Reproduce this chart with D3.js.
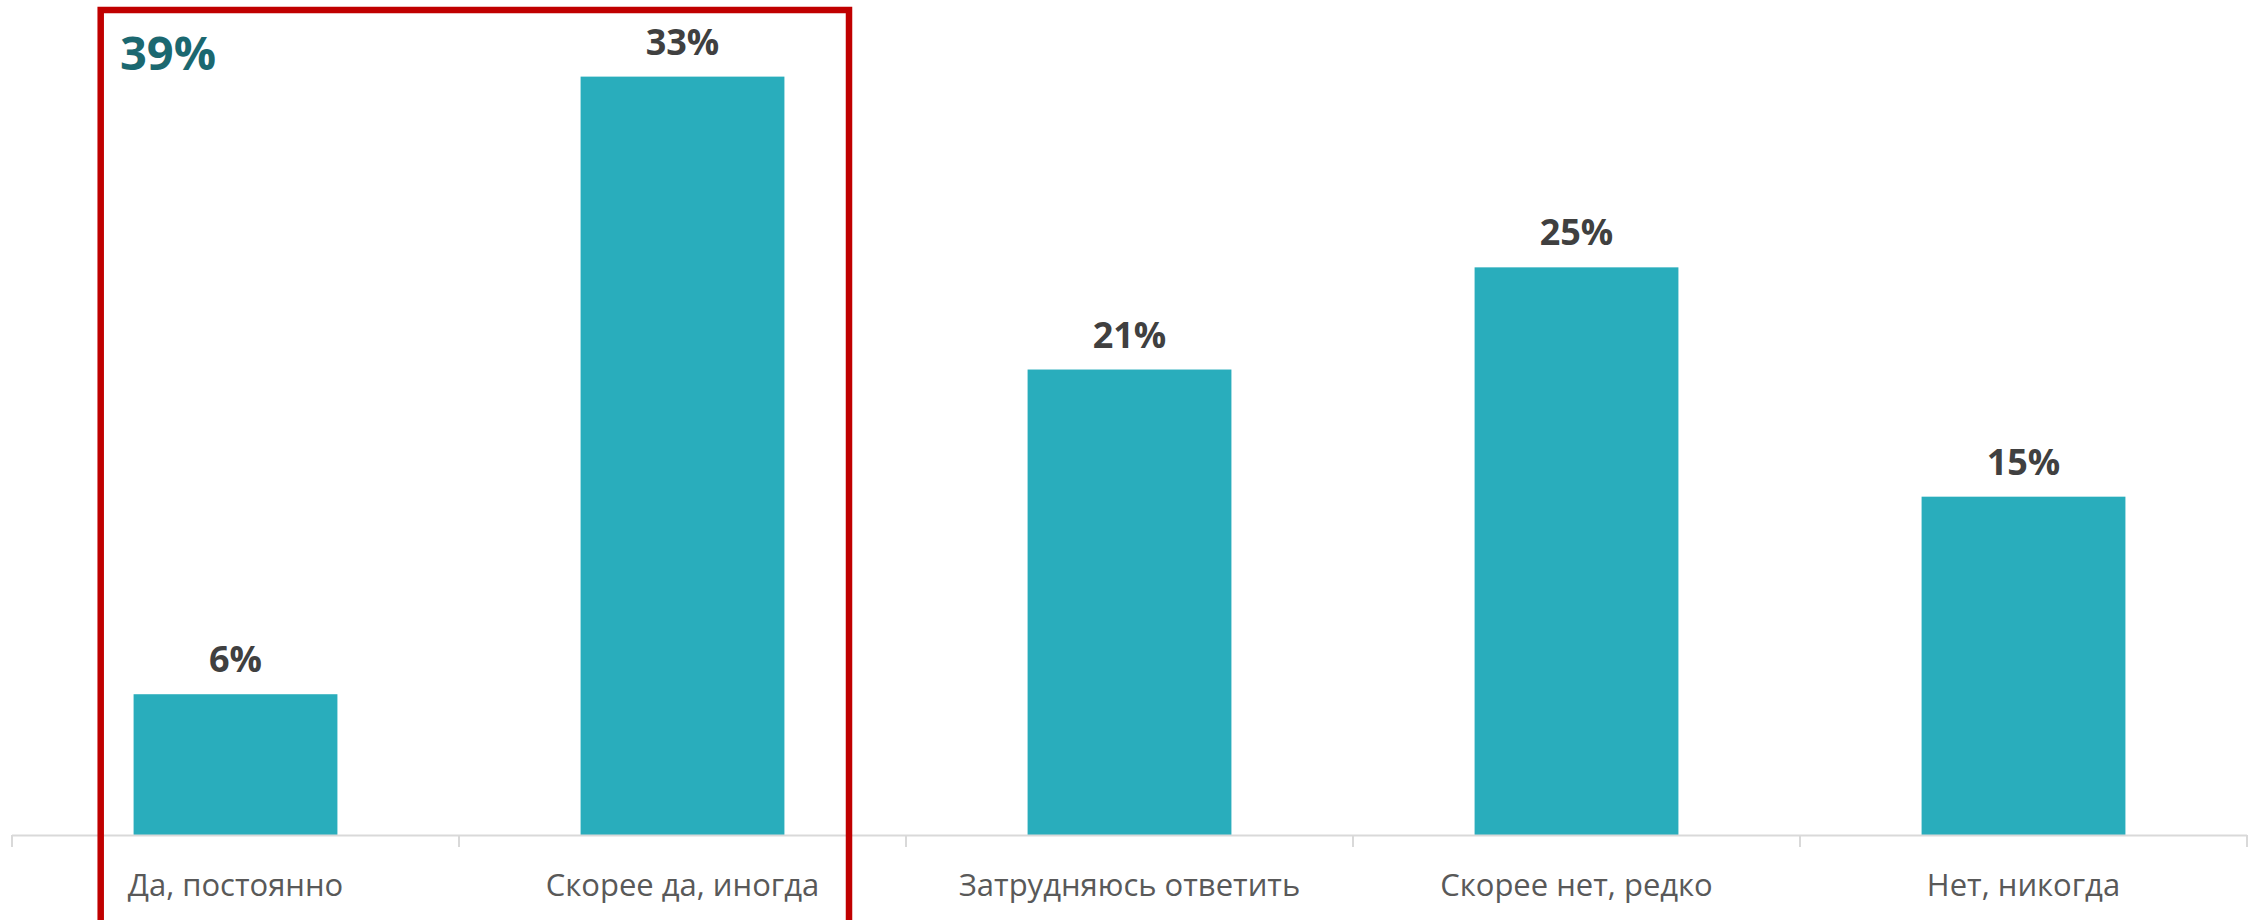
<!DOCTYPE html>
<html>
<head>
<meta charset="utf-8">
<script src="https://cdn.jsdelivr.net/npm/d3@7"></script>
<style>
  html, body { margin: 0; padding: 0; background: #ffffff; }
  svg { display: block; }
</style>
</head>
<body>
<div id="chart"></div>
<script>
// ---- data ----
const categories = ["Да, постоянно", "Скорее да, иногда", "Затрудняюсь ответить", "Скорее нет, редко", "Нет, никогда"];
const values = [6.2, 33.4, 20.5, 25.0, 14.9];
const valueLabels = ["6%", "33%", "21%", "25%", "15%"];
const highlightCategories = ["Да, постоянно", "Скорее да, иногда"];
const highlightTotalLabel = "39%";

// ---- layout ----
const W = 2259, H = 920;
const axisLeft = 12, axisRight = 2247, baseY = 835;
const barColor = "#29adbc";
const font = "'Open Sans', 'Noto Sans', sans-serif";

const svg = d3.select("#chart").append("svg")
  .attr("width", W).attr("height", H)
  .style("background", "#ffffff");

const x = d3.scaleBand()
  .domain(categories)
  .range([axisLeft, axisRight])
  .paddingInner(0.544)
  .paddingOuter(0.272);

const y = d3.scaleLinear()
  .domain([0, 35])
  .range([baseY, baseY - 35 * 22.706]);

// bars
svg.append("g").selectAll("rect")
  .data(values)
  .join("rect")
  .attr("x", (d, i) => x(categories[i]))
  .attr("y", d => y(d))
  .attr("width", x.bandwidth())
  .attr("height", d => y(0) - y(d))
  .attr("fill", barColor);

// value labels
svg.append("g").selectAll("text")
  .data(values)
  .join("text")
  .attr("x", (d, i) => x(categories[i]) + x.bandwidth() / 2)
  .attr("y", d => y(d) - 22)
  .attr("text-anchor", "middle")
  .attr("font-family", font)
  .attr("font-weight", 700)
  .attr("font-size", 36)
  .attr("fill", "#404040")
  .text((d, i) => valueLabels[i]);

// axis line
const step = x.step();
const boundaries = categories.map(c => x(c) - step * x.paddingInner() / 2);
boundaries.push(x(categories[categories.length - 1]) + x.bandwidth() + step * x.paddingInner() / 2);

svg.append("line")
  .attr("x1", axisLeft).attr("x2", axisRight)
  .attr("y1", baseY + 0.5).attr("y2", baseY + 0.5)
  .attr("stroke", "#d9d9d9").attr("stroke-width", 2);

svg.append("g").selectAll("line")
  .data(boundaries)
  .join("line")
  .attr("x1", d => d).attr("x2", d => d)
  .attr("y1", baseY).attr("y2", baseY + 12)
  .attr("stroke", "#d9d9d9").attr("stroke-width", 2);

// category labels
svg.append("g").selectAll("text")
  .data(categories)
  .join("text")
  .attr("x", d => x(d) + x.bandwidth() / 2)
  .attr("y", 896)
  .attr("text-anchor", "middle")
  .attr("font-family", font)
  .attr("font-size", 31)
  .attr("fill", "#595959")
  .text(d => d);

// highlight box around first two categories
const hIdx = highlightCategories.length;
const hx0 = boundaries[0] + 88.7;
const hx1 = boundaries[hIdx] - 57;
svg.append("rect")
  .attr("x", hx0)
  .attr("y", 10)
  .attr("width", hx1 - hx0)
  .attr("height", 960)
  .attr("fill", "none")
  .attr("stroke", "#c00000")
  .attr("stroke-width", 6.5);

svg.append("text")
  .attr("x", 120)
  .attr("y", 70)
  .attr("font-family", font)
  .attr("font-weight", 700)
  .attr("font-size", 47)
  .attr("fill", "#1b6870")
  .text(highlightTotalLabel);
</script>
</body>
</html>
